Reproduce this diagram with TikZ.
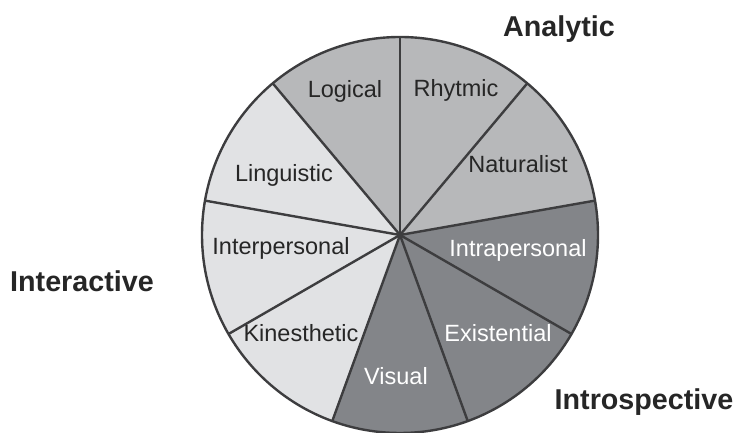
\documentclass[tikz,border=0pt]{standalone}
\usepackage{fontspec}
\setmainfont{Liberation Sans}
\definecolor{lightg}{HTML}{E1E2E4}
\definecolor{midg}{HTML}{B7B8BA}
\definecolor{darkg}{HTML}{838589}
\definecolor{edgeg}{HTML}{3D3D3F}
\definecolor{txt}{HTML}{262626}
\tikzset{
  lbl/.style={anchor=base, inner sep=0pt, text=txt, font=\fontsize{23.5}{28}\selectfont},
  wlbl/.style={lbl, text=white},
  head/.style={anchor=base, inner sep=0pt, text=txt, font=\fontsize{28.7}{34}\selectfont\bfseries},
  spoke/.style={draw=edgeg, line width=2.4pt},
}
\begin{document}
\begin{tikzpicture}[x=1pt,y=1pt]
\useasboundingbox (0,0) rectangle (737,433);
\coordinate (c) at (400,198);
\def\R{198}
% sectors
\foreach \a/\col in {50/midg,10/midg,-30/darkg,-70/darkg,-110/darkg,-150/lightg,170/lightg,130/lightg,90/midg}{
  \fill[\col] (c) -- ++(\a:\R) arc[start angle=\a, delta angle=40, radius=\R] -- cycle;
}
% spokes
\foreach \a in {90,50,10,-30,-70,-110,-150,170,130}{
  \draw[spoke] (c) -- ++(\a:\R);
}
\draw[spoke] (c) circle[radius=\R];
% labels
\node[lbl]  (logical)  at (345,{433-98})  {Logical};
\node[lbl]  (rhythmic) at (456,{433-97})  {Rhytmic};
\node[lbl]  (natural)  at (518,{433-173}) {Naturalist};
\node[lbl]  (ling)     at (284,{433-182}) {Linguistic};
\node[lbl]  (inter)    at (281,{433-255}) {Interpersonal};
\node[wlbl] (intra)    at (518,{433-257}) {Intrapersonal};
\node[lbl]  (kines)    at (301,{433-342}) {Kinesthetic};
\node[wlbl] (exist)    at (498,{433-342}) {Existential};
\node[wlbl] (visual)   at (396,{433-385}) {Visual};
% headings
\node[head] (analytic) at (559,{433-37})  {Analytic};
\node[head] (interact) at (82,{433-292})  {Interactive};
\node[head] (introsp)  at (644,{433-410}) {Introspective};
\end{tikzpicture}
\end{document}
